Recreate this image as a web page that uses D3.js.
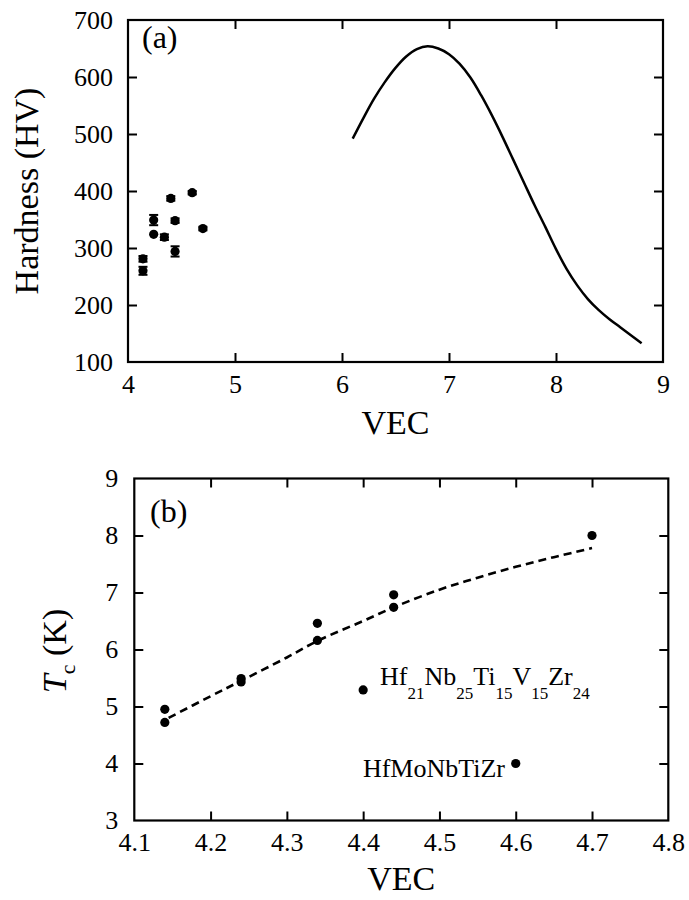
<!DOCTYPE html>
<html><head><meta charset="utf-8">
<script src="https://cdn.jsdelivr.net/npm/d3@7"></script>
<style>
body{margin:0;background:#fff}
svg text{font-family:"Liberation Serif","Times New Roman",serif !important;fill:#000}
</style>
</head><body>
<svg id="c" width="689" height="900"></svg>
<script>
// ---- Panel (a) data ----
const hvVEC   = [4.14, 4.14, 4.24, 4.24, 4.34, 4.40, 4.44, 4.44, 4.60, 4.70];
const hvValue = [281, 260, 349, 324, 319, 387, 348, 294, 397, 334];
const hvErr   = [5, 7, 9, 0, 5, 4, 4, 9, 3, 3];
const curveVEC = [6.10, 6.20, 6.30, 6.40, 6.50, 6.60, 6.70, 6.80, 6.90, 7.00, 7.10, 7.20, 7.30, 7.40, 7.50, 7.60, 7.70, 7.80, 7.90, 8.00, 8.10, 8.20, 8.30, 8.40, 8.50, 8.60, 8.70, 8.80];
const curveHV  = [492, 528, 562, 591, 616, 636, 649, 654, 650, 640, 623, 599, 568, 533, 495, 455, 415, 375, 337, 298, 263, 234, 210, 191, 175, 161, 147, 133];
const xTicksA = [4, 5, 6, 7, 8, 9];
const yTicksA = [100, 200, 300, 400, 500, 600, 700];

// ---- Panel (b) data ----
const tcVEC   = [4.14, 4.14, 4.24, 4.24, 4.34, 4.34, 4.40, 4.44, 4.44, 4.60, 4.70];
const tcValue = [4.95, 4.72, 5.49, 5.43, 6.46, 6.16, 5.29, 6.96, 6.74, 4.00, 8.00];
const fitVEC  = [4.145, 4.20, 4.24, 4.30, 4.34, 4.40, 4.44, 4.50, 4.55, 4.60, 4.65, 4.70];
const fitTc   = [4.80, 5.18, 5.45, 5.86, 6.15, 6.50, 6.74, 7.05, 7.26, 7.45, 7.62, 7.78];
const xTicksB = [4.1, 4.2, 4.3, 4.4, 4.5, 4.6, 4.7, 4.8];
const yTicksB = [3, 4, 5, 6, 7, 8, 9];

const svg = d3.select("#c");
const FS = 26;
const SERIF = '"Liberation Serif","Times New Roman",serif';

function frame(g, x, y, xt, yt, xfmt, yfmt, padX, padY) {
  const [x0, x1] = x.range(), [y0, y1] = y.range();
  const inner = xt.filter(v => v !== x.domain()[0] && v !== x.domain()[1]);
  const innerY = yt.filter(v => v !== y.domain()[0] && v !== y.domain()[1]);
  const b = g.append("g").attr("transform", `translate(0,${y0})`)
    .call(d3.axisBottom(x).tickValues(xt).tickSizeInner(0).tickSizeOuter(0).tickPadding(padX).tickFormat(xfmt));
  b.attr("font-family", SERIF).attr("font-size", FS);
  b.select(".domain").remove();
  b.selectAll("line").remove();
  b.selectAll("text").style("font-family", SERIF).style("font-size", FS + "px");
  const l = g.append("g").attr("transform", `translate(${x0},0)`)
    .call(d3.axisLeft(y).tickValues(yt).tickSizeInner(0).tickSizeOuter(0).tickPadding(padY).tickFormat(yfmt));
  l.attr("font-family", SERIF).attr("font-size", FS);
  l.select(".domain").remove();
  l.selectAll("line").remove();
  l.selectAll("text").style("font-family", SERIF).style("font-size", FS + "px");
  const tk = 9;
  const axes = [
    [d3.axisBottom(x).tickValues(inner), `translate(0,${y0})`],
    [d3.axisTop(x).tickValues(inner), `translate(0,${y1})`],
    [d3.axisLeft(y).tickValues(innerY), `translate(${x0},0)`],
    [d3.axisRight(y).tickValues(innerY), `translate(${x1},0)`]
  ];
  axes.forEach(([ax, tr]) => {
    const a = g.append("g").attr("transform", tr)
      .call(ax.tickSizeInner(-tk).tickSizeOuter(0).tickFormat(""));
    a.select(".domain").remove();
    a.selectAll("text").remove();
    a.selectAll("line").attr("stroke", "#000").attr("stroke-width", 2);
  });
  g.append("rect").attr("x", x0).attr("y", y1).attr("width", x1 - x0).attr("height", y0 - y1)
    .attr("fill", "none").attr("stroke", "#000").attr("stroke-width", 2.2);
}

// ===== Panel (a) =====
const xA = d3.scaleLinear().domain([4, 9]).range([128, 663]);
const yA = d3.scaleLinear().domain([100, 700]).range([362, 20]);
const gA = svg.append("g");
frame(gA, xA, yA, xTicksA, yTicksA, d3.format("d"), d3.format("d"), 12.5, 15);

const line = d3.line().curve(d3.curveCatmullRom.alpha(0.5));
gA.append("path")
  .attr("d", line(curveVEC.map((v, i) => [xA(v), yA(curveHV[i])])))
  .attr("fill", "none").attr("stroke", "#000").attr("stroke-width", 2.5).attr("stroke-linejoin", "round");

const hvData = hvVEC.map((v, i) => ({ x: v, y: hvValue[i], e: hvErr[i] }));
const eb = gA.append("g");
hvData.filter(d => d.e > 0).forEach(d => {
  const cx = xA(d.x), yt = yA(d.y + d.e), yb = yA(d.y - d.e);
  eb.append("line").attr("x1", cx).attr("x2", cx).attr("y1", yt).attr("y2", yb).attr("stroke", "#000").attr("stroke-width", 2);
  [yt, yb].forEach(yy => eb.append("line").attr("x1", cx - 4.5).attr("x2", cx + 4.5).attr("y1", yy).attr("y2", yy).attr("stroke", "#000").attr("stroke-width", 2));
});
gA.selectAll("circle.pt").data(hvData).join("circle").attr("class", "pt")
  .attr("cx", d => xA(d.x)).attr("cy", d => yA(d.y)).attr("r", 4.6).attr("fill", "#000");

gA.append("text").attr("x", 142).attr("y", 48).attr("font-size", 32).text("(a)");
gA.append("text").attr("x", (128 + 663) / 2).attr("y", 434).attr("text-anchor", "middle").attr("font-size", 34).text("VEC");
gA.append("text").attr("transform", `translate(38,191) rotate(-90)`).attr("text-anchor", "middle")
  .attr("font-size", 34).text("Hardness (HV)");

// ===== Panel (b) =====
const xB = d3.scaleLinear().domain([4.1, 4.8]).range([134.3, 668.3]);
const yB = d3.scaleLinear().domain([3, 9]).range([820.5, 478.5]);
const gB = svg.append("g");
frame(gB, xB, yB, xTicksB, yTicksB, d3.format(".1f"), d3.format("d"), 12.5, 16);

gB.append("path")
  .attr("d", line(fitVEC.map((v, i) => [xB(v), yB(fitTc[i])])))
  .attr("fill", "none").attr("stroke", "#000").attr("stroke-width", 2.6).attr("stroke-dasharray", "8,5");

gB.selectAll("circle.pt").data(tcVEC.map((v, i) => ({ x: v, y: tcValue[i] }))).join("circle").attr("class", "pt")
  .attr("cx", d => xB(d.x)).attr("cy", d => yB(d.y)).attr("r", 4.6).attr("fill", "#000");

gB.append("text").attr("x", 150).attr("y", 522).attr("font-size", 32).text("(b)");
gB.append("text").attr("x", (134.3 + 668.3) / 2).attr("y", 890).attr("text-anchor", "middle").attr("font-size", 34).text("VEC");

const tcLab = gB.append("text").attr("transform", `translate(66,651) rotate(-90)`).attr("text-anchor", "middle").attr("font-size", 34);
tcLab.append("tspan").attr("font-style", "italic").text("T");
tcLab.append("tspan").attr("font-size", 22).attr("dy", 9).text("c");
tcLab.append("tspan").attr("dy", -9).text(" (K)");

const parts = [["Hf", "21"], ["Nb", "25"], ["Ti", "15"], ["V", "15"], ["Zr", "24"]];
const lab1 = gB.append("text").attr("x", 380).attr("y", 685).attr("font-size", 26);
parts.forEach(([el, n], i) => {
  lab1.append("tspan").attr("dy", i ? -14 : 0).text(el);
  lab1.append("tspan").attr("font-size", 17).attr("dy", 14).text(n);
});
gB.append("text").attr("x", 505).attr("y", 777).attr("text-anchor", "end").attr("font-size", 26).text("HfMoNbTiZr");
</script>
</body></html>
